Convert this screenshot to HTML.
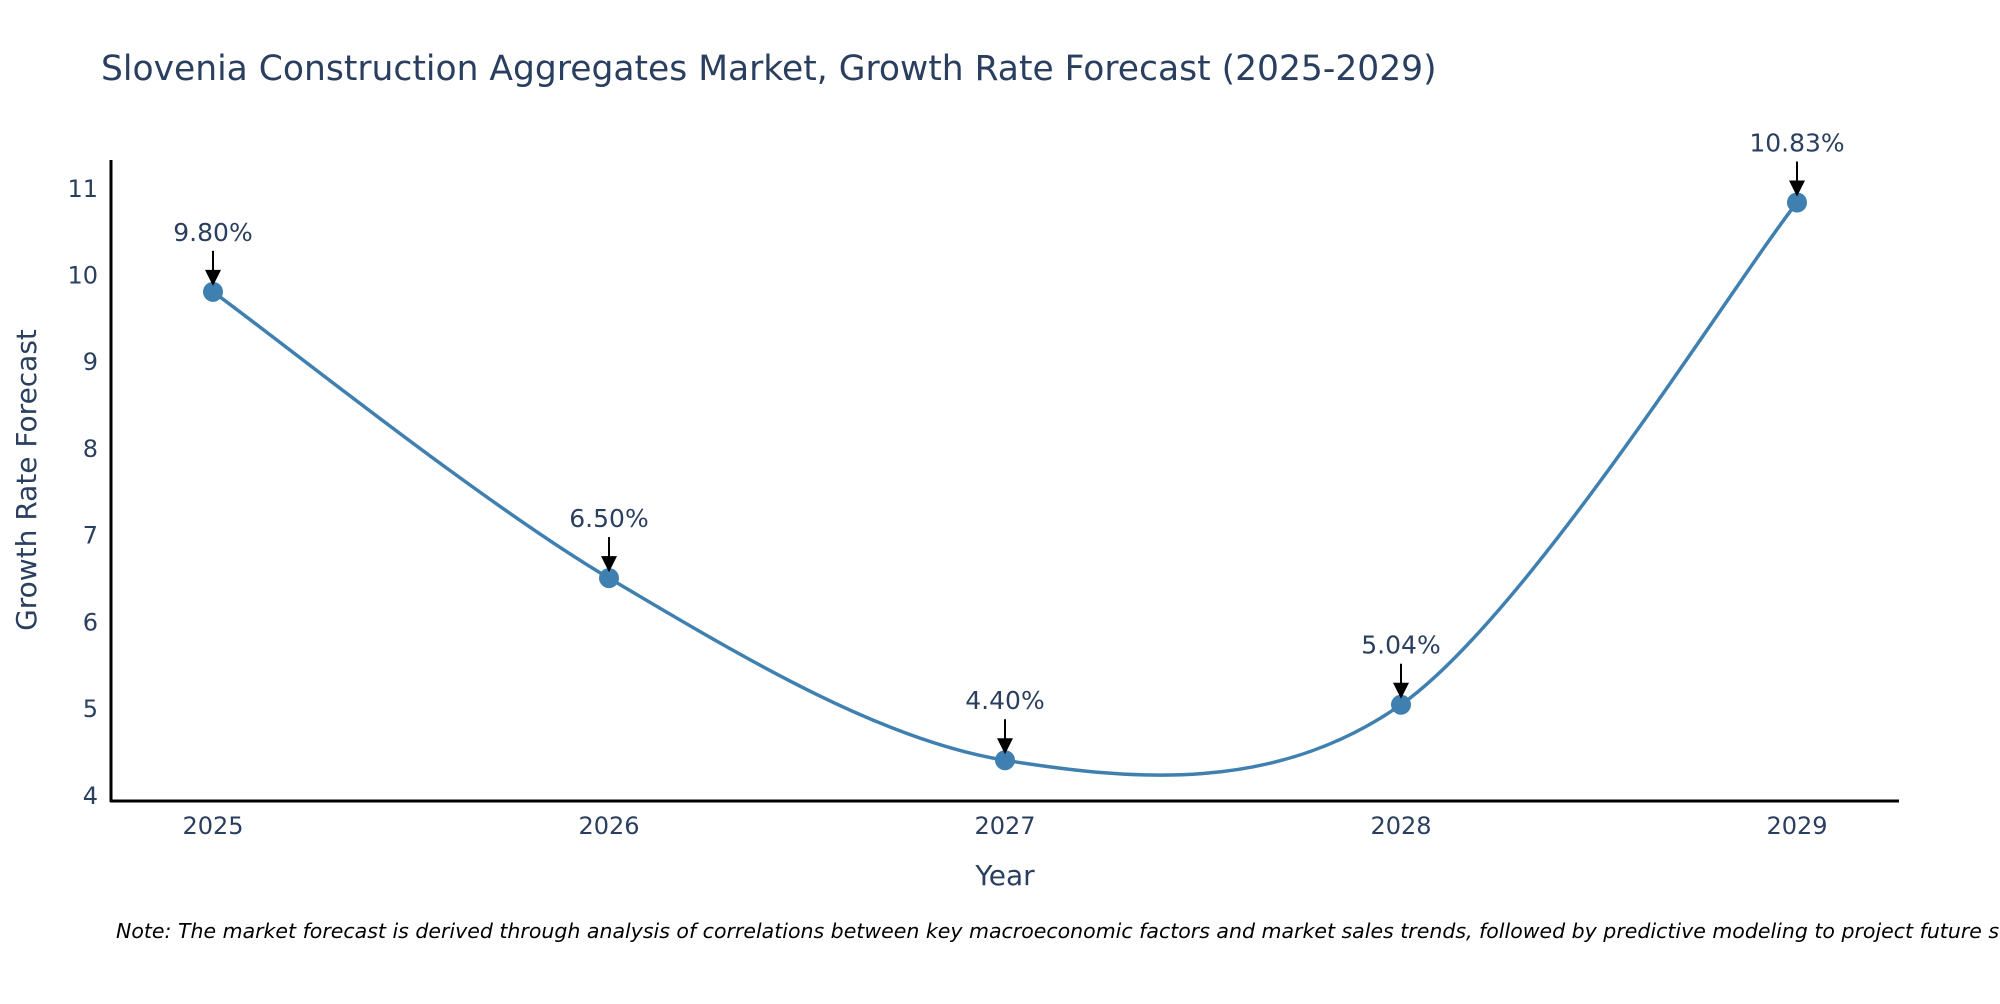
<!DOCTYPE html>
<html><head><meta charset="utf-8"><style>
body{margin:0;background:#fff;width:2000px;height:1000px;overflow:hidden;font-family:"DejaVu Sans","Liberation Sans",sans-serif;}
</style></head><body>
<svg id="chart" width="2000" height="1000" xmlns="http://www.w3.org/2000/svg">
<text x="101" y="80" font-size="34.5" fill="#2a3f5f">Slovenia Construction Aggregates Market, Growth Rate Forecast (2025-2029)</text>
<g id="yticks"></g>
<g id="xticks"></g>
<path id="line" fill="none" stroke="#3f80b0" stroke-width="3.5"/>
<g id="marks"></g>
<line x1="111" y1="160" x2="111" y2="802" stroke="#000" stroke-width="3"/>
<line x1="110" y1="801" x2="1899" y2="801" stroke="#000" stroke-width="3"/>
<text transform="translate(36,480) rotate(-90)" text-anchor="middle" font-size="28" fill="#2a3f5f">Growth Rate Forecast</text>
<text x="1005" y="885" text-anchor="middle" font-size="28" fill="#2a3f5f">Year</text>
<text x="116" y="938" font-size="20.5" font-style="italic" fill="#000">Note: The market forecast is derived through analysis of correlations between key macroeconomic factors and market sales trends, followed by predictive modeling to project future sales.</text>
</svg>
<script>
const years=["2025","2026","2027","2028","2029"];
const values=[9.80,6.50,4.40,5.04,10.83];
const labels=["9.80%","6.50%","4.40%","5.04%","10.83%"];
const yTicks=[4,5,6,7,8,9,10,11];
const NS="http://www.w3.org/2000/svg";
const X0=213,XS=396,Y0=801,Y1=160,VMIN=3.93,VMAX=11.32;
const xs=i=>X0+i*XS;
const ys=v=>Y0-(v-VMIN)/(VMAX-VMIN)*(Y0-Y1);
function mk(t,a,p){const e=document.createElementNS(NS,t);for(const k in a)e.setAttribute(k,a[k]);p.appendChild(e);return e;}
const yg=document.getElementById('yticks');
yTicks.forEach(v=>{const t=mk('text',{x:98,y:ys(v)+9,'text-anchor':'end','font-size':24,fill:'#2a3f5f'},yg);


t.textContent=v;});
const xg=document.getElementById('xticks');
years.forEach((y,i)=>{const t=mk('text',{x:xs(i),y:834,'text-anchor':'middle','font-size':24,fill:'#2a3f5f'},xg);


t.textContent=y;});
const P=values.map((v,i)=>[xs(i),ys(v)]);
let d=`M${P[0][0]},${P[0][1]}`;const s=0.16;
for(let i=0;i<P.length-1;i++){const p0=P[Math.max(i-1,0)],p1=P[i],p2=P[i+1],p3=P[Math.min(i+2,P.length-1)];
const c1=[p1[0]+(p2[0]-p0[0])*s,p1[1]+(p2[1]-p0[1])*s],c2=[p2[0]-(p3[0]-p1[0])*s,p2[1]-(p3[1]-p1[1])*s];
d+=` C${c1[0]},${c1[1]} ${c2[0]},${c2[1]} ${p2[0]},${p2[1]}`;}
document.getElementById('line').setAttribute('d',d);
const mg=document.getElementById('marks');
P.forEach((p,i)=>{
const c=mk('circle',{cx:p[0],cy:p[1],r:10,fill:'#3f80b0'},mg);


const l=mk('line',{x1:p[0],y1:p[1]-41,x2:p[0],y2:p[1]-18,stroke:'#000','stroke-width':2},mg);


const h=mk('polygon',{points:`${p[0]-8},${p[1]-22} ${p[0]+8},${p[1]-22} ${p[0]},${p[1]-6}`,fill:'#000'},mg);


const t=mk('text',{x:p[0],y:p[1]-51,'text-anchor':'middle','font-size':25,fill:'#2a3f5f'},mg);


t.textContent=labels[i];});
</script>
</body></html>
